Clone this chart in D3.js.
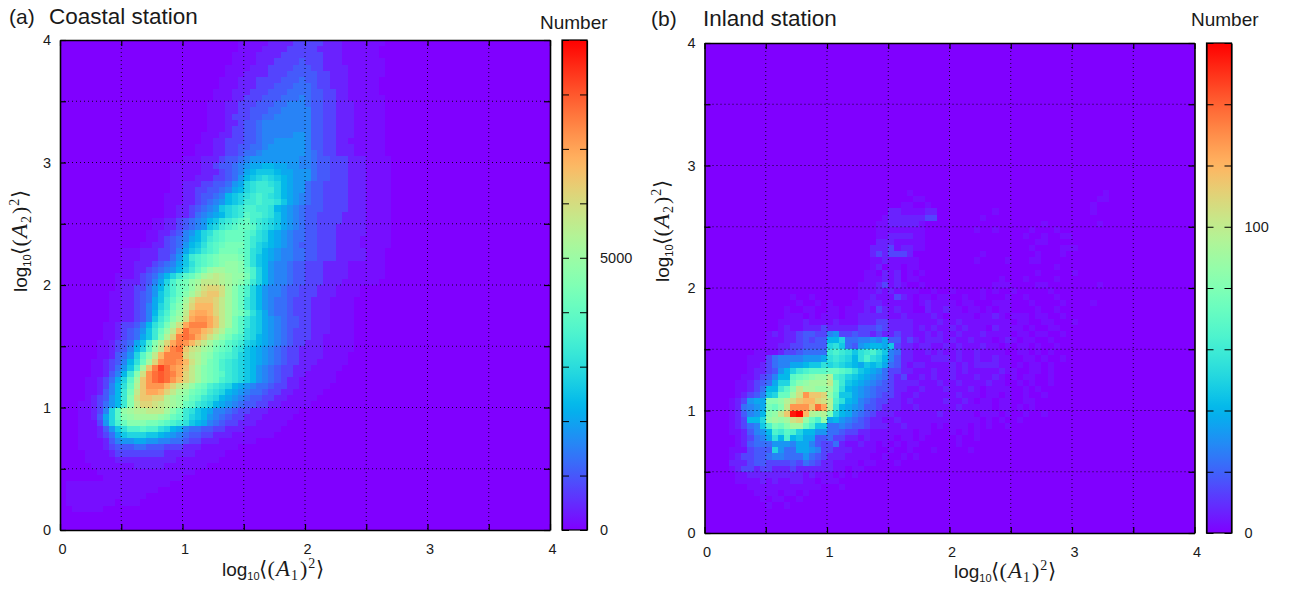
<!DOCTYPE html>
<html>
<head>
<meta charset="utf-8">
<script src="https://cdn.jsdelivr.net/npm/d3@7"></script>
<style>
    html, body { margin: 0; padding: 0; background: #fff; }
    text { font-family: "Liberation Sans", Arial, sans-serif; fill: #1a1a1a; }
    .math { font-family: "Liberation Serif", "DejaVu Serif", serif; }
    .bracket { font-family: "DejaVu Sans", sans-serif; font-weight: 200; }
    .tick text { font-size: 14.5px; font-family: "Liberation Sans", Arial, sans-serif; }
</style>
</head>
<body>
<svg id="chart" width="1295" height="590"></svg>
<script>
'use strict'

// every row is one y bin from log10 = 4 down to 0, each character one x bin (0.05 wide),
// base 36 level, 35 = top of the colour bar, missing bins on the right are 0
const coastalRows = [
    "0000000000 0000000000 0000000001 1111222233 3332221111 1110",
    "0000000000 0000000000 0000000001 1112222333 3322221111 1100",
    "0000000000 0000000000 0000000011 1122223333 3332221111 1100",
    "0000000000 0000000000 0000000011 1122233334 3332221111 1110",
    "0000000000 0000000000 0000000111 1222333344 4332222111 1110",
    "0000000000 0000000000 0000000111 2222333444 4433222111 1110",
    "0000000000 0000000000 0000001112 2233334445 4433222111 1100",
    "0000000000 0000000000 0000001112 2233344455 5433222111 1100",
    "0000000000 0000000000 0000011122 2333444555 5443322111 1100",
    "0000000000 0000000000 0000011122 3334445556 5443322111 1110",
    "0000000000 0000000000 0000111223 3344455666 5443322211 1110",
    "0000000000 0000000000 0000111223 3444556666 6443322211 1110",
    "0000000000 0000000000 0000111233 3445566666 6443322211 1110",
    "0000000000 0000000000 0000111223 4456666666 6443322211 1110",
    "0000000000 0000000000 0000111233 4456666666 6443322211 1110",
    "0000000000 0000000000 0001112233 4456666677 6443322211 1110",
    "0000000000 0000000000 0001122333 4456677777 6443322111 1110",
    "0000000000 0000000000 0011122334 4556777777 6443322211 1110",
    "0000000000 0000000000 0011122334 5567777777 6543322211 1110",
    "0000000000 0000000000 1112223445 6777777776 6544333222 1111",
    "0000000000 0000000011 1112234456 7889988776 6544333222 1111",
    "0000000000 0000000011 1112223456 89aaa98877 7544333222 1111",
    "0000000000 0000000011 1122233457 9abcba9877 7544333222 1111",
    "0000000000 0000000011 2223344578 bcddcb9877 5443333222 1111",
    "0000000000 0000000011 2233445689 bcdddb9877 5443333222 1111",
    "0000000000 0000000111 2234456 9ab cdedcb9876 5443333222 1111",
    "0000000000 0000000111 2234567 9ab ddeddca876 5443333222 1111",
    "0000000000 0000000112 234567abcd eeddc98765 4443333222 1111",
    "0000000000 0000000112 2356789bcd feedca8765 4433332222 1111",
    "0000000000 0000011223 45679acdef gedcba8765 4433332222 1111",
    "0000000000 0000011223 4567abdefg gfdcba8765 4433322222 1111",
    "0000000000 0000112234 679bcefggg fecb987655 4433322222 1111",
    "0000000000 0000112345 689bdefggg fdcb987655 4433322221 1111",
    "0000000000 0001122345 79acefghhh fdba987654 4433322221 1111",
    "0000000000 1112223346 8abdefhhhg fcb9876655 4433322222 1110",
    "0000000000 1112223357 adefghiiih fca9876655 4433322222 1110",
    "0000000000 1122234568 acefghijji fca9766544 3332222111 1110",
    "0000000000 1122345679 bdfhjkkjji geb9766544 3332222111 1110",
    "0000000001 1123457 9bd fgiklmlkjj heb9766544 3332222111 1110",
    "0000000001 2223468beg hjkmmmlkji gdb9766544 3332221111 1100",
    "0000000001 2233579ceg hjlnoonkig eb97665443 3322211110",
    "0000000011 223457aceg ikmoppnkig eb97665443 3322211110",
    "0000000011 223458adfh knpppomkig db97655433 3222111100",
    "0000000011 223468bdgi loqqqomkig db97655433 3222111100",
    "0000000011 223469cehj mqrrqomkih fca8655433 3222111100",
    "0000000011 22346adfik nrssrpmkhf dba8765443 3222111100",
    "0000000112 33469cehkn rtttrpmkhf dba8765443 3222111100",
    "0000000112 3457adgjmq ussqpnlihf cba8765433 3222111100",
    "0000000112 3458adhlot utrpnljhfe cb98765433 3221111100",
    "0000001123 458aeilort sqomkihfed ba98765433 2221111100",
    "0000001123 469bfjmqtu pnmkjhgfdc a987654332 2221111100",
    "0000001124 57bfimqttt omljigfedb a987654332 2221111000",
    "0000011234 69cgkostts qnljhgedcb a987654332 2211111000",
    "0000011235 7aekptwusr pmkihgedcb a976543322 2111110000",
    "0000011246 9dinsuvutr omkihgfdcb a976543322 1111100000",
    "0000112358 bfkpsuvusq omkihgedcb a976543221 1111100000",
    "0000112369 cglpsssqom ljhgedcb98 7655433221 1111000000",
    "0000112469 dhmprrqomk jhgfdcb987 6554332211 1110000000",
    "0000123479 dinppoolkj igfdcb9876 5443322111 1100000000",
    "0001123579 dimoonmlkj gfdcb98765 4433221111 1000000000",
    "00011236bf jkllmmmkig dca9866543 3222111110",
    "00011248bf ijkkkkjigf dba9765433 2221111100",
    "00011137be giiihhgfed ca98654332 2211111000",
    "000111247a ceefeecb98 6554433222 1111110000",
    "0001112358 abbbaa9876 5443322211 1111100000",
    "0001111246 7788776655 4332221111 1100000000",
    "0001111234 4455444333 2221111110",
    "0000111123 3333333222 2211111000",
    "0000111112 2222222221 1111110000",
    "0000011111 1122222111 1111000000",
    "0000001111 1111111111 1100000000",
    "0000000111 1111111111",
    "0111111111 1111111100",
    "0111111111 1111110000",
    "0111111111 1111000000",
    "0111111110 1110000000",
    "0011111000",
    "", "", ""
]

const inlandRows = [
    "", "", "", "", "", "", "", "", "", "", "", "", "", "", "", "", "", "", "", "", "", "", "", "",
    "0000000000 0000000000 0000000000 0001000000 0000000000 0000000000 0000010000",
    "0000000000 0000000000 0000000000 0000110000 0000000000 0000000000 0000110000",
    "0000000000 0000000000 0000000000 0011001000 0000000000 0000000000 0001000000",
    "0000000000 0000000000 0000000000 2211112200 0000000100 0000000000 0001000000",
    "0000000000 0000000000 0000000001 2222223300 0000010000 0000000000 0000000000",
    "0000000000 0000000000 0000000011 2222210000 0000000000 0000010000 0000100000",
    "0000000000 0000000000 0000000011 1111110000 0000100100 0001000100 0000000000",
    "0000000000 0000000000 0000000011 2222110000 0000000000 0010010011 0000000000",
    "0000000000 0000000000 0000000022 2111110000 0000000000 0000110000 0000000000",
    "0000000000 0000000000 0000000222 3122110000 0000000000 0001000011 1000000000",
    "0000000000 0000000000 0000000232 3332000000 0000010000 0000100010 0000000000",
    "0000000000 0000000000 0000000112 1111100000 0000100001 0001100000 0000000000",
    "0000000000 0000000000 0000000120 1101100000 0000000000 0000000100 0000000000",
    "0000000000 0000000000 0000001102 1201010000 0000000000 0000100000 1000000000",
    "0000000000 0000000000 0000001112 1201100000 0000000010 0010000100 0000000000",
    "0000000000 0000000000 0000011123 1210010000 0000000111 0000110000 0000100000",
    "0000000000 0000000000 0000011121 2111100100 1000010100 1000001000 0000000000",
    "0000000000 0000100100 0000011211 1321011011 0010010001 0010000100 0000000000",
    "0000000000 0000010010 1000112221 1111012111 1011000111 0001000010 0001000000",
    "0000000000 0001001100 1101112132 1211002112 1101101011 0000100100 0000000000",
    "0000000000 0001110101 1101122222 1121111210 1111011210 1110110010 0000000000",
    "0000000000 0011112111 1211122233 2222111121 1211111111 0110011000 1000000000",
    "0000000000 0012112223 2222233343 2222121211 2121110211 1101001100 0000000000",
    "0000000000 1212234433 6733433232 2322112121 1211121111 0110110010 0000000000",
    "0000000000 1112234344 99b5566768 4423212221 2112111012 1011001000 0000000000",
    "0000000000 1122334444 bca5478998 a322122112 1211121101 0110100100 0000000000",
    "0000000011 1123345555 dedcacdeca 6522112121 1211211110 0110101000 0000000000",
    "0000000111 3566667778 cdcb9cecb9 6422111222 1211211211 0011010010 0000000000",
    "0000000112 3566889aac bcba98a9a8 5421221111 2121222211 0101101000 0000000000",
    "0000000122 3479bdefff ggfeca9875 3322111211 2121111121 1001101000 0000000000",
    "0000001123 4699fghijj ledba98765 3231121211 2111211210 1011001000 0000000000",
    "0000011234 58bbgijkkk mgda987654 3222211121 1211112110 0101001000 0000000000",
    "0000011235 99dfimkkjj kgc9876544 3221121112 1112101111 0010100000 0000000000",
    "0000012346 abggknsppo jfaa876543 3211211111 1211101101 0010010000 0000000000",
    "0000123788 iijlnpqqon lec9865433 2212111112 1121011011 0011000000 0000000000",
    "0000125678 hgimssspur ld98764432 2211211111 1211111011 0101000000 0000000000",
    "0000124679 ijmpyzqlkl hb98654322 2111111121 1111011101 0010010000 0000000000",
    "000012399b jkjknojgej 8976543221 1211111111 1111101010 0100000000 0000000000",
    "000012356a ehgikkgeaa 5565443222 1121111010 1110101001",
    "0000112467 9edfeb9977 5543322111 1111011000 1010100000",
    "0000012356 8c9e9a8844 5332212111 1011010000 0100100000",
    "0000012455 5777688643 3521121101 0101100000 0100000000",
    "0000111344 4b75588763 3222111100 1001000100 0001000000",
    "0000123344 5665557543 2221111001 0010100000",
    "0000222344 3333435432 2111101100 0100000000",
    "0000123323 3222322222 2110110000",
    "0000011222 2222221211 1010100000",
    "0000011112 1211221101 1100000000",
    "0000000111 1111111110 0010000000",
    "0000000011 1101101000",
    "0000000001 0110010000",
    "0000000000 1001000000",
    "", "", "", ""
]

const coastalMax = 9000, inlandMax = 160
const coastalBarTicks = [0, 1000, 2000, 3000, 4000, 5000, 6000, 7000, 8000, 9000]
const inlandBarTicks = [0, 20, 40, 60, 80, 100, 120, 140, 160]
const coastalBarLabels = [0, 5000]
const inlandBarLabels = [0, 100]
const axisTicks = [0, 0.5, 1, 1.5, 2, 2.5, 3, 3.5, 4]
// the two lowest levels are closer to zero than the rest of the ladder
const lowLevels = [0, 0.6, 1.5]

const binWidth = 0.05, plotSize = 490, barWidth = 25

// gnuplot "rgbformulae 33,13,10" rainbow
function palette(t) {
    const r = Math.abs(2 * t - 0.5)
    const g = Math.sin(Math.PI * t)
    const b = Math.cos(Math.PI * t / 2)
    return d3.rgb(255 * Math.min(r, 1), 255 * g, 255 * b).formatHex()
}

function toCells(rows, max) {
    const cells = []
    rows.forEach((row, r) => {
        const chars = row.replace(/ /g, '')
        for (let c = 0; c < 80; c++) {
            const level = c < chars.length ? parseInt(chars[c], 36) : 0
            const step = level < lowLevels.length ? lowLevels[level] : level
            cells.push({ x: c * binWidth, y: 4 - r * binWidth, value: step * max / 35 })
        }
    })
    return cells
}

const svg = d3.select('#chart')

const defs = svg.append('defs')
const grad = defs.append('linearGradient').attr('id', 'rainbow')
    .attr('x1', 0).attr('x2', 0).attr('y1', 1).attr('y2', 0)
grad.selectAll('stop').data(d3.range(0, 1.001, 0.02)).enter().append('stop')
    .attr('offset', d => d)
    .attr('stop-color', d => palette(d))

function mathLabel(sel, sub) {
    // log10<(A1)^2> as plain text runs
    const t = sel.append('text')
    t.append('tspan').attr('font-size', 19).text('log')
    t.append('tspan').attr('font-size', 11).attr('dy', 4).text('10')
    t.append('tspan').attr('class', 'bracket').attr('font-size', 21).attr('dy', -4).attr('dx', -1).text('\u27e8')
    t.append('tspan').attr('class', 'math').attr('font-size', 22).attr('dx', 1).text('(')
    t.append('tspan').attr('class', 'math').attr('font-size', 23).attr('dx', 1).attr('font-style', 'italic').text('A')
    t.append('tspan').attr('class', 'math').attr('font-size', 14).attr('dy', 4).attr('dx', 1).text(sub)
    t.append('tspan').attr('class', 'math').attr('font-size', 22).attr('dy', -4).attr('dx', 2).text(')')
    t.append('tspan').attr('class', 'math').attr('font-size', 14).attr('dy', -8).attr('dx', 1).text('2')
    t.append('tspan').attr('class', 'bracket').attr('font-size', 21).attr('dy', 8).attr('dx', 1).text('\u27e9')
    return t
}

function drawPanel(p) {
    const x = d3.scaleLinear().domain([0, 4]).range([0, plotSize])
    const y = d3.scaleLinear().domain([0, 4]).range([plotSize, 0])
    const color = d3.scaleSequential(palette).domain([0, p.max])

    const g = svg.append('g').attr('transform', `translate(${p.left},${p.top})`)

    g.append('g').selectAll('rect')
        .data(toCells(p.rows, p.max))
        .enter().append('rect')
        .attr('x', d => x(d.x))
        .attr('y', d => y(d.y))
        .attr('width', x(binWidth) - x(0))
        .attr('height', y(0) - y(binWidth))
        .attr('fill', d => color(d.value))
        .attr('shape-rendering', 'crispEdges')

    // dotted grid
    const grid = g.append('g')
    grid.selectAll('line.v').data(axisTicks.slice(1, -1)).enter().append('line')
        .attr('x1', d => x(d)).attr('x2', d => x(d)).attr('y1', 0).attr('y2', plotSize)
    grid.selectAll('line.h').data(axisTicks.slice(1, -1)).enter().append('line')
        .attr('class', 'h')
        .attr('y1', d => y(d)).attr('y2', d => y(d)).attr('x1', 0).attr('x2', plotSize)
    grid.selectAll('line')
        .attr('stroke', '#000')
        .attr('stroke-width', 1)
        .attr('stroke-dasharray', '1,3')
        .attr('opacity', 0.85)

    const noLabel = () => ''
    const intLabel = d => Number.isInteger(d) ? d : ''

    const bottom = g.append('g').attr('transform', `translate(0,${plotSize})`)
        .call(d3.axisBottom(x).tickValues(axisTicks).tickSizeInner(-6).tickSizeOuter(0).tickPadding(14).tickFormat(intLabel))
    bottom.selectAll('text').attr('dx', 2)
    g.append('g')
        .call(d3.axisLeft(y).tickValues(axisTicks).tickSizeInner(-6).tickSizeOuter(0).tickPadding(9).tickFormat(intLabel))
    g.append('g').call(d3.axisTop(x).tickValues(axisTicks).tickSizeInner(-6).tickSizeOuter(0).tickFormat(noLabel))
    g.append('g').attr('transform', `translate(${plotSize},0)`)
        .call(d3.axisRight(y).tickValues(axisTicks).tickSizeInner(-6).tickSizeOuter(0).tickFormat(noLabel))

    g.selectAll('.domain').attr('stroke-width', 1.6).attr('stroke', '#000')
    g.selectAll('.tick line').attr('stroke', '#000').attr('stroke-width', 1.2)

    // colour bar
    const barLeft = plotSize + p.barGap
    const barScale = d3.scaleLinear().domain([0, p.max]).range([plotSize, 0])
    const bar = g.append('g').attr('transform', `translate(${barLeft},0)`)
    bar.append('rect').attr('width', barWidth).attr('height', plotSize).attr('fill', 'url(#rainbow)')

    bar.append('g').call(d3.axisLeft(barScale).tickValues(p.barTicks).tickSizeInner(-7).tickSizeOuter(0).tickFormat(noLabel))
    bar.append('g').attr('transform', `translate(${barWidth},0)`)
        .call(d3.axisRight(barScale).tickValues(p.barTicks).tickSizeInner(-7).tickSizeOuter(0).tickFormat(noLabel))
    const barLabels = bar.append('g').attr('transform', `translate(${barWidth},0)`)
        .call(d3.axisRight(barScale).tickValues(p.barLabels).tickSize(0).tickPadding(13).tickFormat(d3.format('d')))
    barLabels.select('.domain').remove()
    bar.selectAll('.domain').attr('stroke', '#000').attr('stroke-width', 1.2)
    bar.selectAll('.tick line').attr('stroke', '#000').attr('stroke-width', 1)
    bar.append('rect').attr('width', barWidth).attr('height', plotSize)
        .attr('fill', 'none').attr('stroke', '#000').attr('stroke-width', 1.2)

    // texts
    svg.append('text').attr('x', p.tagX).attr('y', p.titleY).attr('font-size', 21).text(p.tag)
    svg.append('text').attr('x', p.titleX).attr('y', p.titleY).attr('font-size', 22.5).text(p.title)
    svg.append('text').attr('x', p.numberX).attr('y', p.numberY).attr('font-size', 19).text('Number')

    mathLabel(svg.append('g').attr('transform', `translate(${p.xLabelX},${p.xLabelY})`), '1')
    mathLabel(svg.append('g').attr('transform', `translate(${p.yLabelX},${p.yLabelY}) rotate(-90)`), '2')
}

drawPanel({
    rows: coastalRows, max: coastalMax, barTicks: coastalBarTicks, barLabels: coastalBarLabels,
    left: 60, top: 40, barGap: 12,
    tag: '(a)', title: 'Coastal station',
    tagX: 9, titleX: 49, titleY: 24, numberX: 540, numberY: 29,
    xLabelX: 222, xLabelY: 576, yLabelX: 27, yLabelY: 292
})

drawPanel({
    rows: inlandRows, max: inlandMax, barTicks: inlandBarTicks, barLabels: inlandBarLabels,
    left: 704.5, top: 43, barGap: 12,
    tag: '(b)', title: 'Inland station',
    tagX: 651, titleX: 703, titleY: 26, numberX: 1191, numberY: 26,
    xLabelX: 954, xLabelY: 578, yLabelX: 669, yLabelY: 282
})
</script>
</body>
</html>
